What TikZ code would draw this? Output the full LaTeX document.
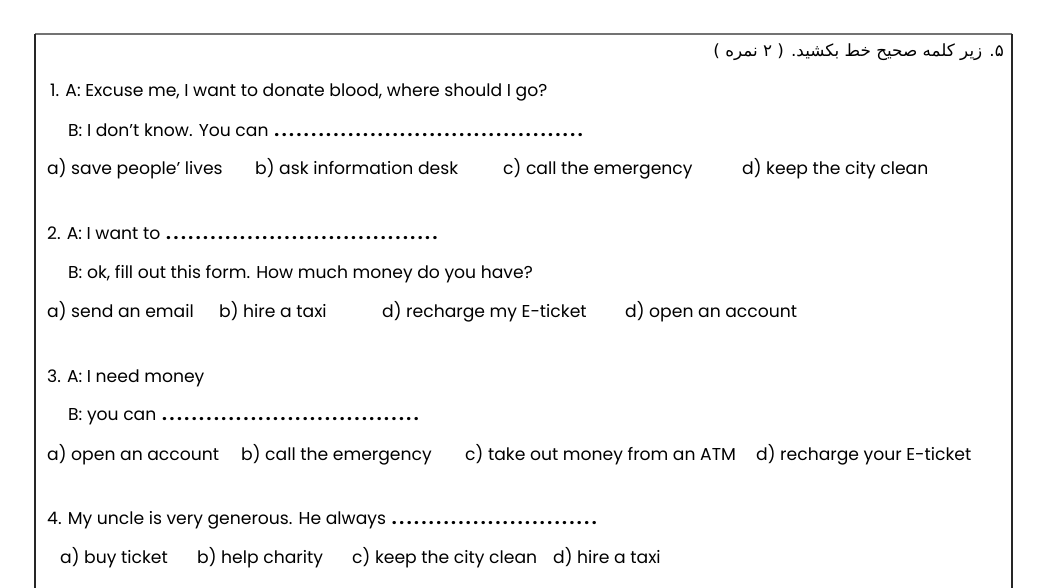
\documentclass[tikz,border=0pt]{standalone}
\usepackage{fontspec}
\setmainfont{Poppins}
\newfontfamily\persianfont[Script=Arabic]{DejaVu Sans}
\TeXXeTstate=1
\usetikzlibrary{positioning}

\newcommand{\blankdots}[1]{\makebox[#1][l]{\leaders\hbox to 7.4pt{\hss\bfseries.\hss}\hfill}}

\begin{document}
\begin{tikzpicture}[x=1pt,y=-1pt,
        qline/.style={anchor=base west,inner sep=0pt,font=\fontsize{17.2}{19}\selectfont},
        header/.style={anchor=base east,inner sep=0pt,font=\persianfont\fontsize{16.8}{18}\selectfont}]

        \useasboundingbox (0,0) rectangle (1064,588);

        \coordinate (TL) at (35,34);
        \coordinate (TR) at (1012,34);
        \coordinate (BL) at (35,588);
        \coordinate (BR) at (1012,588);

        % frame, bottom edge is off the page
        \draw[black!55,line width=1.5pt] (TL) -- (TR);
        \draw[black!85,line width=1.5pt] (TL) -- (BL);
        \draw[black!85,line width=1.5pt] (TR) -- (BR);

        \node[header] (title) at (1004,57) {\beginR ۵. زیر کلمه صحیح خط بکشید. ( ۲ نمره )\endR};

        % question 1
        \node[qline] (q1a) at (50,97) {1. A: Excuse me, I want to donate blood, where should I go?};
        \node[qline] (q1b) at (68,137) {B: I don't know. You can \blankdots{318pt}};
        \node[qline] (q1opa) at (47,175) {a) save people' lives};
        \node[qline] (q1opb) at (255,175) {b) ask information desk};
        \node[qline] (q1opc) at (503,175) {c) call the emergency};
        \node[qline] (q1opd) at (742,175) {d) keep the city clean};

        % question 2
        \node[qline] (q2a) at (47,239) {2. A: I want to \blankdots{274pt}};
        \node[qline] (q2b) at (68,278) {B: ok, fill out this form. How much money do you have?};
        \node[qline] (q2opa) at (47,317) {a) send an email};
        \node[qline] (q2opb) at (219,317) {b) hire a taxi};
        \node[qline] (q2opc) at (382,317) {d) recharge my E-ticket};
        \node[qline] (q2opd) at (625,317) {d) open an account};

        % question 3
        \node[qline] (q3a) at (47,382) {3. A: I need money};
        \node[qline] (q3b) at (68,420) {B: you can \blankdots{266pt}};
        \node[qline] (q3opa) at (47,460) {a) open an account};
        \node[qline] (q3opb) at (241,460) {b) call the emergency};
        \node[qline] (q3opc) at (465,460) {c) take out money from an ATM};
        \node[qline] (q3opd) at (756,460) {d) recharge your E-ticket};

        % question 4
        \node[qline] (q4a) at (47,524) {4. My uncle is very generous. He always \blankdots{210pt}};
        \node[qline] (q4opa) at (60,563) {a) buy ticket};
        \node[qline] (q4opb) at (197,563) {b) help charity};
        \node[qline] (q4opc) at (352,563) {c) keep the city clean};
        \node[qline] (q4opd) at (553,563) {d) hire a taxi};
    \end{tikzpicture}
\end{document}
